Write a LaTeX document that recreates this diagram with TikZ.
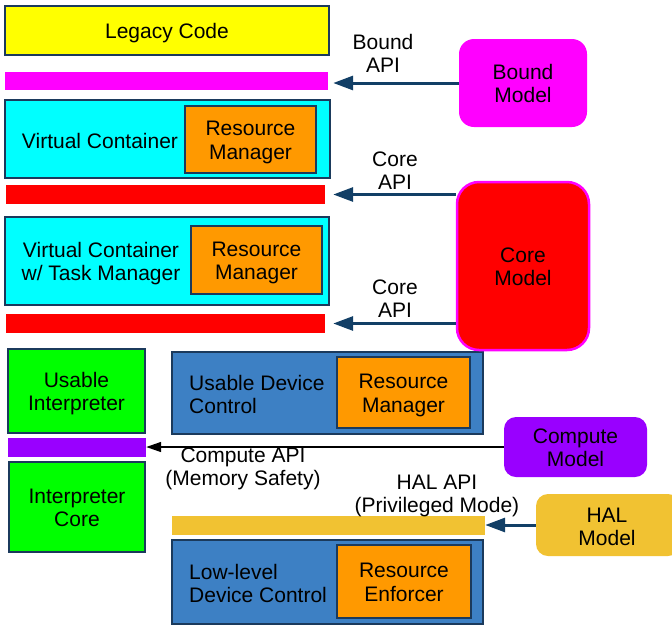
\documentclass[tikz,border=0pt]{standalone}
\usepackage{fontspec}
\setmainfont{Liberation Sans}
\usetikzlibrary{arrows.meta}
\definecolor{navy}{HTML}{1B3A5C}
\definecolor{arrownavy}{HTML}{123F66}
\definecolor{yel}{HTML}{FFFF00}
\definecolor{mag}{HTML}{FF00FF}
\definecolor{cya}{HTML}{00FFFF}
\definecolor{redc}{HTML}{FF0000}
\definecolor{ora}{HTML}{FF9900}
\definecolor{gre}{HTML}{00FF00}
\definecolor{pur}{HTML}{9900FF}
\definecolor{steel}{HTML}{3D80C4}
\definecolor{halyel}{HTML}{F1C232}
\tikzset{
  every node/.style={font=\fontsize{21}{23.5}\selectfont, inner sep=0pt, align=center, text height=43pt, text depth=3.5pt},
  oneline/.style={text height=19.5pt, text depth=3.5pt},
  box/.style={draw=navy, line width=2pt, rectangle},
  plainbox/.style={draw=navy, line width=2pt, rectangle, text height=0pt, text depth=0pt},
  bar/.style={draw=none, rectangle, text height=0pt, text depth=0pt},
  model/.style={draw=none, rectangle, rounded corners=#1},
  label/.style={text=black},
  apiarrow/.style={draw=arrownavy, line width=3pt, -{Triangle[length=20pt,width=14pt]}},
  thinarrow/.style={draw=black, line width=1.5pt, -{Triangle[length=15pt,width=10pt]}},
}
\begin{document}
\begin{tikzpicture}[x=1pt,y=-1pt]
\useasboundingbox (0,0) rectangle (672,625);
% left stack
\node[box, oneline, fill=yel, minimum width=324pt, minimum height=49pt] (legacy) at (167,30.5) {Legacy Code};
\node[bar, fill=mag, minimum width=323pt, minimum height=18pt] (barB) at (166.5,81) {};
\node[plainbox, fill=cya, minimum width=325pt, minimum height=78pt] (vc1) at (167.5,139) {};
\node[label, oneline] (vc1lab) at (100,140) {Virtual Container};
\node[box, fill=ora, minimum width=131pt, minimum height=67pt] (rm1) at (250.5,139.5) {Resource\\Manager};
\node[bar, fill=redc, minimum width=319pt, minimum height=19pt] (barC1) at (165.5,194.5) {};
\node[plainbox, fill=cya, minimum width=324pt, minimum height=88pt] (vc2) at (167,261) {};
\node[label] (vc2lab) at (101,261) {Virtual Container\\w/ Task Manager};
\node[box, fill=ora, minimum width=131pt, minimum height=68pt] (rm2) at (256.5,260) {Resource\\Manager};
\node[bar, fill=redc, minimum width=319pt, minimum height=19pt] (barC2) at (165.5,323.5) {};
% interpreter
\node[box, fill=gre, minimum width=137pt, minimum height=84pt] (uinterp) at (76.5,391) {Usable\\Interpreter};
\node[bar, fill=pur, minimum width=138pt, minimum height=19pt] (barP) at (77,447.5) {};
\node[box, fill=gre, minimum width=136pt, minimum height=90pt] (icore) at (77,507) {Interpreter\\Core};
% device control
\node[plainbox, fill=steel, minimum width=311pt, minimum height=82pt] (udc) at (327.5,393) {};
\node[label, anchor=west, align=left] (udclab) at (189,394) {Usable Device\\Control};
\node[box, fill=ora, minimum width=133pt, minimum height=71pt] (rm3) at (403.5,392.5) {Resource\\Manager};
\node[bar, fill=halyel, minimum width=313pt, minimum height=19pt] (barH) at (328.5,525.5) {};
\node[plainbox, fill=steel, minimum width=311pt, minimum height=84pt] (lldc) at (327.5,582) {};
\node[label, anchor=west, align=left] (lldclab) at (189,583) {Low-level\\Device Control};
\node[box, fill=ora, minimum width=134pt, minimum height=73pt] (re) at (404,581.5) {Resource\\Enforcer};
% models
\node[model=15pt, fill=mag, minimum width=128pt, minimum height=88pt] (bound) at (523,83) {Bound\\Model};
\node[model=22pt, fill=redc, draw=mag, line width=2.5pt, minimum width=132pt, minimum height=168pt] (core) at (523,266) {Core\\Model};
\node[model=12pt, fill=pur, minimum width=143pt, minimum height=60pt] (compute) at (575.5,447) {Compute\\Model};
\node[model=12pt, fill=halyel, minimum width=144pt, minimum height=62pt, text height=0pt, text depth=0pt] (hal) at (608,525) {};
\node[label] (hallab) at (607,526) {HAL\\Model};
% arrows
\draw[apiarrow, shorten >=5pt] (bound.west) -- (barB.east |- bound.west);
\draw[apiarrow, shorten >=8pt] (core.west |- barC1) -- (barC1.east);
\draw[apiarrow, shorten >=8pt] (core.west |- barC2) -- (barC2.east);
\draw[thinarrow] (compute.west) -- (barP.east |- compute.west);
\draw[apiarrow] (hal.west) -- (barH.east |- hal.west);
% labels
\node[label] (boundapi) at (383,53) {Bound\\API};
\node[label] (coreapi1) at (395,170) {Core\\API};
\node[label] (coreapi2) at (395,298) {Core\\API};
\node[label] (computeapi) at (243,466) {Compute API\\(Memory Safety)};
\node[label] (halapi) at (437,493) {HAL API\\(Privileged Mode)};
\end{tikzpicture}
\end{document}
